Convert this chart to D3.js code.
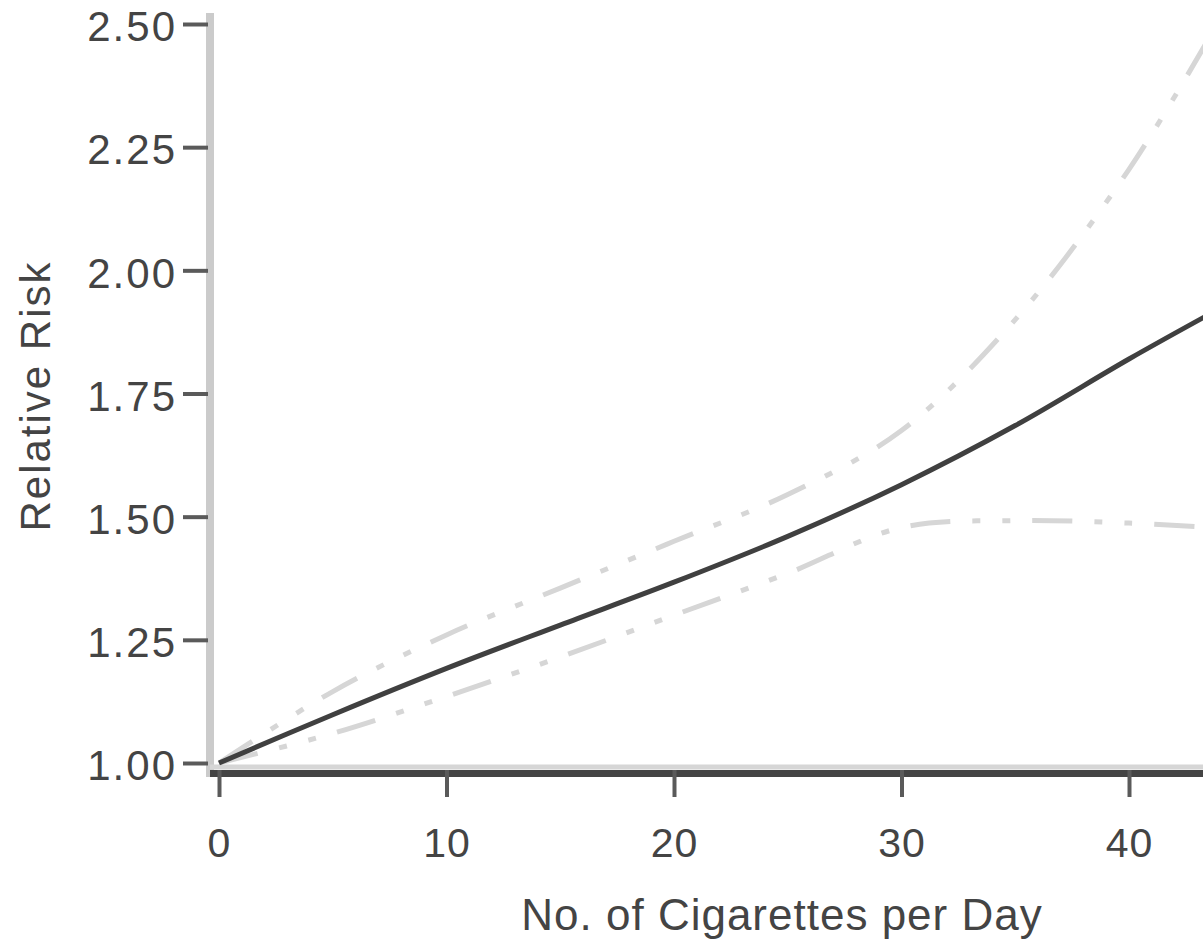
<!DOCTYPE html>
<html>
<head>
<meta charset="utf-8">
<script src="https://cdn.jsdelivr.net/npm/d3@7"></script>
<style>
  body { margin: 0; background: #fff; }
  svg { display: block; }
  text { font-family: "Liberation Sans", Arial, sans-serif; fill: #444; }
</style>
</head>
<body>
<svg id="chart" width="1203" height="941"></svg>
<script>
// cigarettes per day vs relative risk (fit + confidence band)
var cigs    = [0, 5, 10, 15, 20, 25, 30, 35, 40, 43.5];
var rrFit   = [1.00, 1.098, 1.192, 1.28, 1.367, 1.46, 1.565, 1.685, 1.82, 1.91];
var rrUpper = [1.00, 1.145, 1.26, 1.355, 1.45, 1.545, 1.675, 1.9, 2.205, 2.47];
var rrLower = [1.00, 1.06, 1.135, 1.215, 1.30, 1.385, 1.478, 1.492, 1.487, 1.478];
var xTicks = [0, 10, 20, 30, 40];
var yTicks = [1.00, 1.25, 1.50, 1.75, 2.00, 2.25, 2.50];

var W = 1203, H = 941;
var svg = d3.select("#chart");

var x = d3.scaleLinear().domain([0, 40]).range([219, 1129]);
var y = d3.scaleLinear().domain([1, 2.5]).range([763, 24]);
var axisY = 770;   // x axis position
var axisX = 210;   // y axis position

function series(vals) {
  return cigs.map(function(c, i) { return { x: c, y: vals[i] }; });
}

var line = d3.line()
  .x(function(d) { return x(d.x); })
  .y(function(d) { return y(d.y); })
  .curve(d3.curveCatmullRom.alpha(0.5));

// axis lines
svg.append("line")
  .attr("x1", axisX).attr("x2", axisX)
  .attr("y1", y(2.5) - 11).attr("y2", axisY + 7)
  .style("stroke", "#cbcbcb").style("stroke-width", 8);

svg.append("line")
  .attr("x1", axisX).attr("x2", W)
  .attr("y1", axisY - 3).attr("y2", axisY - 3)
  .style("stroke", "#d6d6d6").style("stroke-width", 5);

svg.append("line")
  .attr("x1", axisX).attr("x2", W)
  .attr("y1", axisY + 3.5).attr("y2", axisY + 3.5)
  .style("stroke", "#444").style("stroke-width", 7);

// y axis
var gy = svg.append("g")
  .attr("transform", "translate(" + (axisX - 2) + ",0)")
  .call(d3.axisLeft(y).tickValues(yTicks).tickFormat(d3.format(".2f"))
    .tickSize(25).tickPadding(6));
gy.select(".domain").remove();
gy.selectAll(".tick line").style("stroke", "#5a5a5a").style("stroke-width", 4);
gy.selectAll(".tick text")
  .style("font-size", "42px")
  .style("letter-spacing", "2px")
  .attr("dy", "0.4em");

// x axis
var gx = svg.append("g")
  .attr("transform", "translate(0," + axisY + ")")
  .call(d3.axisBottom(x).tickValues(xTicks).tickFormat(d3.format("d"))
    .tickSize(27).tickPadding(31));
gx.select(".domain").remove();
gx.selectAll(".tick line").style("stroke", "#5a5a5a").style("stroke-width", 4);
gx.selectAll(".tick text").style("font-size", "41px").style("letter-spacing", "1px");

// confidence limits
[rrUpper, rrLower].forEach(function(v) {
  svg.append("path")
    .datum(series(v))
    .attr("d", line)
    .style("fill", "none")
    .style("stroke", "#d6d6d6")
    .style("stroke-width", 5)
    .style("stroke-dasharray", "40,22,8,22,8,22");
});

// fitted curve
svg.append("path")
  .datum(series(rrFit))
  .attr("d", line)
  .style("fill", "none")
  .style("stroke", "#404040")
  .style("stroke-width", 5);

// titles
svg.append("text")
  .attr("x", 782).attr("y", 930)
  .attr("text-anchor", "middle")
  .style("font-size", "44px")
  .style("letter-spacing", "1px")
  .text("No. of Cigarettes per Day");

svg.append("text")
  .attr("transform", "translate(50,396) rotate(-90)")
  .attr("text-anchor", "middle")
  .style("font-size", "42px")
  .style("letter-spacing", "2px")
  .text("Relative Risk");
</script>
</body>
</html>
